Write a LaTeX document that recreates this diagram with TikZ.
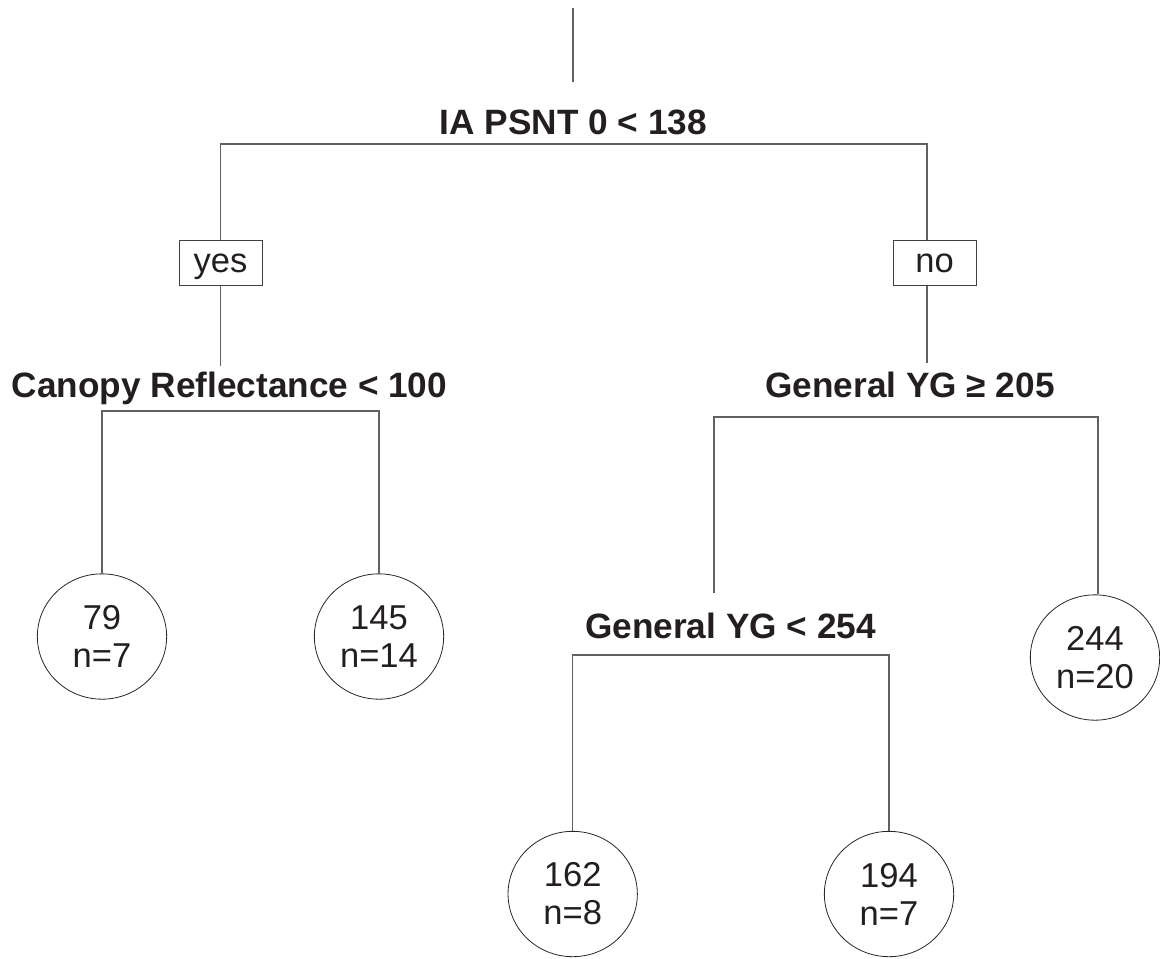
\documentclass[tikz,border=0pt]{standalone}
\usepackage{fontspec}
\setmainfont{Liberation Sans}
\usetikzlibrary{shapes.geometric}
\definecolor{txt}{HTML}{231F20}
\begin{document}
\begin{tikzpicture}[x=0.75pt,y=-0.75pt,
  link/.style={draw=black!62,line width=0.85pt},
  splitlab/.style={anchor=base,inner sep=0pt,text=txt,font=\fontsize{26.4}{30}\selectfont\bfseries},
  leafnode/.style={ellipse,draw=black!85,line width=0.6pt,minimum width=97pt,minimum height=94pt,inner sep=0pt,align=center,text=txt,font=\fontsize{25.9}{28.5}\selectfont},
  answer/.style={rectangle,draw=black!75,line width=0.75pt,minimum width=62.25pt,minimum height=33.75pt,inner sep=0pt,text height=14.25pt,text depth=0pt,text=txt,font=\fontsize{25.9}{28.5}\selectfont}]
\useasboundingbox (0,0) rectangle (1160,958);

% split labels
\node[splitlab] (s1) at (573.5,134) {IA PSNT 0 < 138};
\node[splitlab] (s2) at (229.5,397) {Canopy Reflectance < 100};
\node[splitlab] (s3) at (910,397) {General YG ≥ 205};
\node[splitlab] (s4) at (730.5,638) {General YG < 254};

% yes / no boxes
\node[answer] (yes) at (220.5,262.5) {yes};
\node[answer] (no) at (934.5,262.5) {no};

% leaves
\node[leafnode] (c79) at (102,636.5) {79\\n=7};
\node[leafnode] (c145) at (379,636.5) {145\\n=14};
\node[leafnode] (c162) at (572.7,894) {162\\n=8};
\node[leafnode] (c194) at (889,894) {194\\n=7};
\node[leafnode] (c244) at (1095,657.5) {244\\n=20};

% junction coordinates
\coordinate (top) at (573,8);
\coordinate (topend) at (573,82);
\coordinate (rbL) at (220.5,144);
\coordinate (rbR) at (927,144);
\coordinate (yesend) at (220.5,366);
\coordinate (noend) at (927,363);
\coordinate (cbL) at (102,411);
\coordinate (cbR) at (379,411);
\coordinate (gbL) at (714,417);
\coordinate (gbR) at (1098,417);
\coordinate (gLend) at (714,593);
\coordinate (hbL) at (572.7,655);
\coordinate (hbR) at (889,655);

% connectors
\draw[link] (top) -- (topend);
\draw[link] (yes.north) -- (rbL) -- (rbR) -- (rbR |- no.north);
\draw[link] (yes.south) -- (yesend);
\draw[link] (rbR |- no.south) -- (noend);
\draw[link] (c79.north) -- (cbL) -- (cbR) -- (c145.north);
\draw[link] (gLend) -- (gbL) -- (gbR) -- (gbR |- c244.north);
\draw[link] (c162.north) -- (hbL) -- (hbR) -- (c194.north);
\end{tikzpicture}
\end{document}
